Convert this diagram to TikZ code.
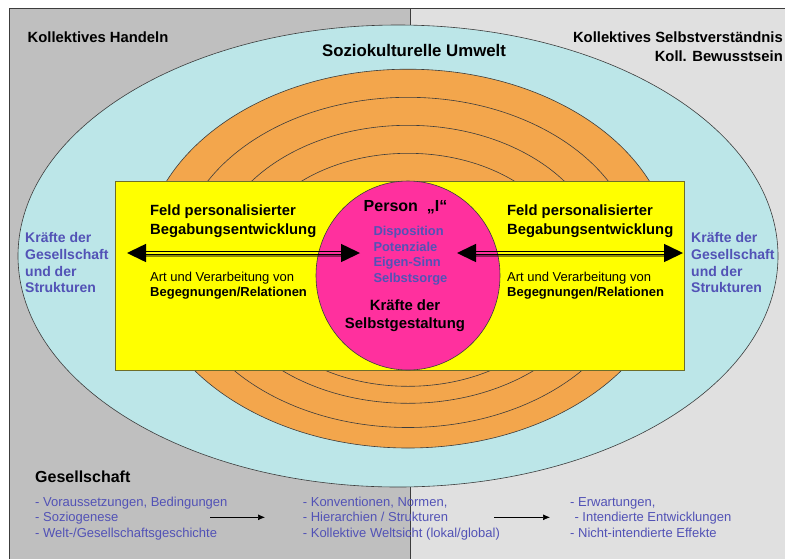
\documentclass[tikz,border=0pt]{standalone}
\usepackage{fontspec}
\setmainfont{Liberation Sans}
\usetikzlibrary{arrows.meta}
\definecolor{bgL}{RGB}{191,191,191}
\definecolor{bgR}{RGB}{224,224,224}
\definecolor{cyanE}{RGB}{188,230,232}
\definecolor{orangeE}{RGB}{243,166,76}
\definecolor{yellowR}{RGB}{255,255,0}
\definecolor{magentaC}{RGB}{255,48,158}
\definecolor{blueT}{RGB}{82,82,182}
\definecolor{edge}{RGB}{60,60,60}
\definecolor{rectedge}{RGB}{110,110,40}
\begin{document}
\begin{tikzpicture}[x=1pt,y=-1pt,
  ring/.style={draw=edge, line width=0.6pt, fill=orangeE},
  headtxt/.style={font=\bfseries\fontsize{14.8}{19}\selectfont, inner sep=0pt, align=left},
  feldtxt/.style={font=\bfseries\fontsize{14.8}{18.3}\selectfont, inner sep=0pt, align=left, anchor=base west},
  arttxt/.style={font=\fontsize{13}{15}\selectfont, inner sep=0pt, align=left, anchor=base west},
  kraefte/.style={font=\bfseries\fontsize{14}{16.7}\selectfont, text=blueT, inner sep=0pt, align=left, anchor=base west},
  listtxt/.style={font=\fontsize{13}{15.5}\selectfont, text=blueT, inner sep=0pt, align=left, anchor=base west},
  shaftln/.style={line width=1.3pt, black},
  shadowln/.style={line width=2.4pt, black, opacity=0.45},
  tip/.style={fill=black},
  smallarrow/.style={line width=0.7pt, -{Latex[length=7pt,width=6pt]}}
]
\useasboundingbox (0,0) rectangle (785,558);
\clip (0,0) rectangle (785,558);
% backgrounds
\fill[bgL] (9,8) rectangle (410,580);
\fill[bgR] (410,8) rectangle (800,580);
\draw[edge, line width=0.8pt] (800,8) -- (9,8) -- (9,580);
\draw[edge, line width=0.8pt] (410,8) -- (410,580);
% sociocultural ellipse
\draw[draw=edge, line width=0.6pt, fill=cyanE] (398,256) ellipse [x radius=380, y radius=231];
% rings
\draw[ring] (408,258.6) ellipse [x radius=264.5, y radius=189.4];
\draw[ring] (408,262.4) ellipse [x radius=230, y radius=165.1];
\draw[ring] (408,264.3) ellipse [x radius=195, y radius=139];
\draw[ring] (408,269.8) ellipse [x radius=164, y radius=116.5];
% field
\draw[draw=rectedge, line width=0.8pt, fill=yellowR] (115,181) rectangle (684,370);
% person
\draw[draw=edge, line width=0.6pt, fill=magentaC] (408,275.5) ellipse [x radius=92, y radius=94.5];
% left arrow
\coordinate (L1) at (127,253);
\coordinate (L2) at (360,253);
\draw[shadowln, shorten <=19pt, shorten >=19pt] ([yshift=-3.2pt]L1) -- ([yshift=-3.2pt]L2);
\draw[shaftln, shorten <=17pt, shorten >=17pt] ([yshift=1.7pt]L1) -- ([yshift=1.7pt]L2);
\draw[shaftln, shorten <=17pt, shorten >=17pt] ([yshift=-1.5pt]L1) -- ([yshift=-1.5pt]L2);
\fill[tip] (L1) -- ++(19,-9.2) -- ++(0,18.4) -- cycle;
\fill[tip] (L2) -- ++(-19,-9.2) -- ++(0,18.4) -- cycle;
% right arrow
\coordinate (R1) at (457,253);
\coordinate (R2) at (683,253);
\draw[shadowln, shorten <=19pt, shorten >=19pt] ([yshift=-3.2pt]R1) -- ([yshift=-3.2pt]R2);
\draw[shaftln, shorten <=17pt, shorten >=17pt] ([yshift=1.7pt]R1) -- ([yshift=1.7pt]R2);
\draw[shaftln, shorten <=17pt, shorten >=17pt] ([yshift=-1.5pt]R1) -- ([yshift=-1.5pt]R2);
\fill[tip] (R1) -- ++(19,-9.2) -- ++(0,18.4) -- cycle;
\fill[tip] (R2) -- ++(-19,-9.2) -- ++(0,18.4) -- cycle;
% headings (multi-line nodes: base = last line)
\node[headtxt, anchor=base west] (kh) at (27.5,42.5) {Kollektives Handeln};
\node[headtxt, anchor=base east, align=right] (ks) at (783,61) {Kollektives Selbstverständnis\\Koll. Bewusstsein};
\node[font=\bfseries\fontsize{16.8}{20}\selectfont, inner sep=0pt, anchor=base] (su) at (414,56) {Soziokulturelle Umwelt};
% field texts
\node[feldtxt] (fl) at (150,234) {Feld personalisierter\\Begabungsentwicklung};
\node[arttxt] (al) at (150,296) {Art und Verarbeitung von\\\textbf{Begegnungen/Relationen}};
\node[feldtxt] (fr) at (507,234) {Feld personalisierter\\Begabungsentwicklung};
\node[arttxt] (ar) at (507,296) {Art und Verarbeitung von\\\textbf{Begegnungen/Relationen}};
\node[kraefte] (kl) at (25,292.8) {Kräfte der\\Gesellschaft\\und der\\Strukturen};
\node[kraefte] (kr) at (691,292.8) {Kräfte der\\Gesellschaft\\und der\\Strukturen};
% person texts
\node[font=\bfseries\fontsize{16}{19}\selectfont, inner sep=0pt, anchor=base] (pi) at (405.5,211.7) {Person\ \ „I“};
\node[font=\bfseries\fontsize{12.9}{15.5}\selectfont, text=blueT, inner sep=0pt, align=left, anchor=base west] (dp) at (373.3,282.2) {Disposition\\Potenziale\\Eigen-Sinn\\Selbstsorge};
\node[font=\bfseries\fontsize{14.9}{18.3}\selectfont, inner sep=0pt, align=center, anchor=base] (ksg) at (405,328.3) {Kräfte der\\Selbstgestaltung};
% bottom
\node[font=\bfseries\fontsize{16}{19}\selectfont, inner sep=0pt, anchor=base west] (ges) at (35,482.7) {Gesellschaft};
\node[listtxt] (c1) at (35,537) {- Voraussetzungen, Bedingungen\\- Soziogenese\\- Welt-/Gesellschaftsgeschichte};
\node[listtxt] (c2) at (302.7,537) {- Konventionen, Normen,\\- Hierarchien / Strukturen\\- Kollektive Weltsicht (lokal/global)};
\node[listtxt] (c3) at (570,537) {- Erwartungen,\\\hspace{4.3pt}- Intendierte Entwicklungen\\- Nicht-intendierte Effekte};
\coordinate (a1s) at (210,517.3);
\coordinate (a1e) at (265,517.3);
\coordinate (a2s) at (494,517.3);
\coordinate (a2e) at (550,517.3);
\draw[smallarrow] (a1s) -- (a1e);
\draw[smallarrow] (a2s) -- (a2e);
\end{tikzpicture}
\end{document}
